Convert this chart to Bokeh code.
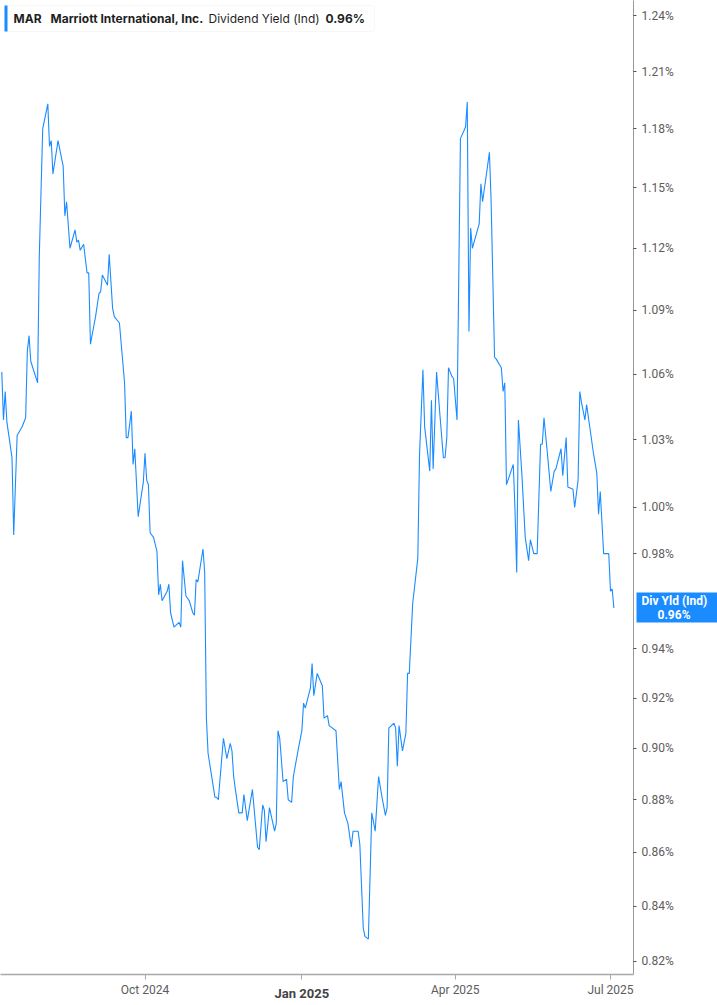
import pandas as pd
from bokeh.plotting import figure
from bokeh.models import (Range1d, FixedTicker, PrintfTickFormatter, Label,
                          BoxAnnotation, DatetimeTickFormatter, DatetimeAxis, LogAxis)
from bokeh.embed import file_html
from bokeh.resources import INLINE

# ---------------- data ----------------
dates = [
    "2024-07-09", "2024-07-10", "2024-07-11", "2024-07-12", "2024-07-15", "2024-07-16",
    "2024-07-18", "2024-07-21", "2024-07-23", "2024-07-24", "2024-07-25", "2024-07-26",
    "2024-07-30", "2024-07-31", "2024-08-02", "2024-08-05", "2024-08-06", "2024-08-07",
    "2024-08-08", "2024-08-11", "2024-08-14", "2024-08-15", "2024-08-16", "2024-08-18",
    "2024-08-21", "2024-08-22", "2024-08-23", "2024-08-24", "2024-08-26", "2024-08-28",
    "2024-08-29", "2024-08-30", "2024-09-02", "2024-09-04", "2024-09-05", "2024-09-06",
    "2024-09-09", "2024-09-10", "2024-09-12", "2024-09-13", "2024-09-16", "2024-09-19",
    "2024-09-20", "2024-09-21", "2024-09-23", "2024-09-24", "2024-09-25", "2024-09-27",
    "2024-09-30", "2024-10-01", "2024-10-02", "2024-10-03", "2024-10-04", "2024-10-06",
    "2024-10-08", "2024-10-09", "2024-10-10", "2024-10-11", "2024-10-14", "2024-10-15",
    "2024-10-16", "2024-10-18", "2024-10-21", "2024-10-22", "2024-10-23", "2024-10-25",
    "2024-10-27", "2024-10-29", "2024-10-30", "2024-10-31", "2024-11-01", "2024-11-04",
    "2024-11-05", "2024-11-06", "2024-11-07", "2024-11-11", "2024-11-12", "2024-11-13",
    "2024-11-16", "2024-11-18", "2024-11-20", "2024-11-21", "2024-11-22", "2024-11-23",
    "2024-11-25", "2024-11-27", "2024-11-28", "2024-11-30", "2024-12-03", "2024-12-06",
    "2024-12-07", "2024-12-09", "2024-12-10", "2024-12-11", "2024-12-13", "2024-12-16",
    "2024-12-17", "2024-12-18", "2024-12-19", "2024-12-21", "2024-12-23", "2024-12-24",
    "2024-12-26", "2024-12-27", "2024-12-30", "2025-01-01", "2025-01-02", "2025-01-03",
    "2025-01-06", "2025-01-07", "2025-01-08", "2025-01-10", "2025-01-13", "2025-01-14",
    "2025-01-16", "2025-01-17", "2025-01-21", "2025-01-23", "2025-01-24", "2025-01-26",
    "2025-01-28", "2025-01-30", "2025-01-31", "2025-02-03", "2025-02-04", "2025-02-06",
    "2025-02-07", "2025-02-09", "2025-02-11", "2025-02-13", "2025-02-15", "2025-02-17",
    "2025-02-19", "2025-02-20", "2025-02-21", "2025-02-24", "2025-02-25", "2025-02-26",
    "2025-02-27", "2025-03-01", "2025-03-03", "2025-03-04", "2025-03-05", "2025-03-07",
    "2025-03-10", "2025-03-11", "2025-03-13", "2025-03-14", "2025-03-17", "2025-03-18",
    "2025-03-19", "2025-03-21", "2025-03-23", "2025-03-25", "2025-03-26", "2025-03-27",
    "2025-03-28", "2025-03-30", "2025-03-31", "2025-04-02", "2025-04-04", "2025-04-07",
    "2025-04-08", "2025-04-09", "2025-04-10", "2025-04-11", "2025-04-15", "2025-04-16",
    "2025-04-17", "2025-04-21", "2025-04-22", "2025-04-24", "2025-04-25", "2025-04-28",
    "2025-04-29", "2025-04-30", "2025-05-01", "2025-05-05", "2025-05-06", "2025-05-07",
    "2025-05-08", "2025-05-10", "2025-05-12", "2025-05-14", "2025-05-15", "2025-05-17",
    "2025-05-19", "2025-05-20", "2025-05-21", "2025-05-22", "2025-05-23", "2025-05-25",
    "2025-05-27", "2025-05-29", "2025-05-30", "2025-06-02", "2025-06-03", "2025-06-05",
    "2025-06-06", "2025-06-09", "2025-06-10", "2025-06-12", "2025-06-13", "2025-06-14",
    "2025-06-16", "2025-06-17", "2025-06-19", "2025-06-21", "2025-06-23", "2025-06-24",
    "2025-06-25", "2025-06-27", "2025-06-29", "2025-06-30", "2025-07-01", "2025-07-02",
    "2025-07-03",
]
div_yield = [
    1.061, 1.039, 1.052, 1.038, 1.022, 0.988,
    1.032, 1.036, 1.040, 1.071, 1.078, 1.066,
    1.056, 1.116, 1.180, 1.193, 1.171, 1.174,
    1.157, 1.174, 1.161, 1.136, 1.143, 1.120,
    1.129, 1.123, 1.124, 1.119, 1.122, 1.108,
    1.108, 1.074, 1.087, 1.098, 1.099, 1.107,
    1.102, 1.117, 1.091, 1.087, 1.084, 1.056,
    1.031, 1.031, 1.043, 1.019, 1.026, 0.996,
    1.011, 1.024, 1.012, 1.010, 0.989, 0.987,
    0.981, 0.9625, 0.967, 0.960, 0.964, 0.967,
    0.955, 0.949, 0.951, 0.949, 0.977, 0.962,
    0.960, 0.955, 0.954, 0.969, 0.968, 0.982,
    0.972, 0.912, 0.898, 0.881, 0.881, 0.880,
    0.904, 0.896, 0.902, 0.899, 0.889, 0.884,
    0.875, 0.875, 0.882, 0.872, 0.884, 0.862,
    0.861, 0.878, 0.876, 0.864, 0.877, 0.868,
    0.871, 0.907, 0.904, 0.887, 0.888, 0.880,
    0.879, 0.889, 0.900, 0.907, 0.918, 0.916,
    0.924, 0.934, 0.921, 0.930, 0.925, 0.912,
    0.913, 0.909, 0.907, 0.884, 0.887, 0.875,
    0.871, 0.862, 0.868, 0.868, 0.863, 0.832,
    0.829, 0.828, 0.875, 0.868, 0.889, 0.881,
    0.874, 0.877, 0.908, 0.910, 0.908, 0.893,
    0.909, 0.899, 0.906, 0.930, 0.930, 0.959,
    0.978, 1.023, 1.062, 1.036, 1.016, 1.048,
    1.017, 1.061, 1.041, 1.022, 1.022, 1.031,
    1.063, 1.059, 1.058, 1.039, 1.175, 1.181,
    1.194, 1.080, 1.130, 1.120, 1.132, 1.152,
    1.143, 1.168, 1.143, 1.068, 1.067, 1.063,
    1.052, 1.056, 1.010, 1.019, 0.999, 0.972,
    1.039, 1.015, 0.987, 0.977, 0.986, 0.980,
    0.980, 1.004, 1.028, 1.028, 1.040, 1.024,
    1.007, 1.016, 1.017, 1.026, 1.014, 1.031,
    1.009, 1.008, 1.000, 1.012, 1.052, 1.047,
    1.039, 1.046, 1.035, 1.024, 1.015, 0.997,
    1.007, 0.980, 0.980, 0.980, 0.964, 0.965,
    0.957,
]

symbol = "MAR"
company = "Marriott International, Inc."
metric = "Dividend Yield (Ind)"
metric_short = "Div Yld (Ind)"
last_label = "0.96%"

y_ticks = [0.82, 0.84, 0.86, 0.88, 0.90, 0.92, 0.94, 0.98, 1.00, 1.03, 1.06,
           1.09, 1.12, 1.15, 1.18, 1.21, 1.24]
x_tick_dates = ["2024-10-01", "2025-01-01", "2025-04-01", "2025-07-01"]
x_tick_labels = ["Oct 2024", "Jan 2025", "Apr 2025", "Jul 2025"]
bold_tick = "Jan 2025"

# ---------------- figure ----------------
LINE_BLUE = "#1a8cff"
x = pd.to_datetime(dates)

p = figure(width=717, height=1004, x_axis_type="datetime", y_axis_type="log",
           y_axis_location="right", output_backend="svg", toolbar_location=None,
           x_range=Range1d(pd.Timestamp("2024-07-08 06:00"), pd.Timestamp("2025-07-14 12:00")),
           y_range=Range1d(0.81528, 1.24816),
           min_border_left=0, min_border_top=0, min_border_right=84, min_border_bottom=30)
p.outline_line_color = None
p.grid.visible = False
p.background_fill_color = "white"
p.border_fill_color = "white"

p.line(x=x, y=div_yield, line_color=LINE_BLUE, line_width=1.1)

# y axis (right) with the regular ticks
ya = p.yaxis[0]
ya.ticker = FixedTicker(ticks=y_ticks)
ya.formatter = PrintfTickFormatter(format="%.2f%%")
ya.axis_line_color = "#9a9a9a"
ya.axis_line_width = 1
ya.major_tick_line_color = "#555555"
ya.major_tick_out = 3
ya.major_tick_in = 0
ya.minor_tick_line_color = None
ya.major_label_text_font = "Roboto"
ya.major_label_text_font_size = "12px"
ya.major_label_text_color = "#5c5c5c"
ya.major_label_standoff = 5

# last-value marker, built from two extra right axes that tick only at the last value:
#   box_axis:  a 30px-thick blue tick spanning the right border, labelled with the value
#   name_axis: the metric name, drawn afterwards on top of the blue tick
label_style = dict(major_label_text_font="Roboto", major_label_text_font_style="bold",
                   major_label_text_font_size="12px", major_label_text_color="white",
                   major_label_text_line_height=0.95)

box_axis = LogAxis(ticker=FixedTicker(ticks=[div_yield[-1]]),
                   formatter=PrintfTickFormatter(format="\n%.2f%%"),
                   axis_line_color=None, minor_tick_line_color=None,
                   major_tick_line_color=LINE_BLUE, major_tick_line_width=30,
                   major_tick_in=40, major_tick_out=44, **label_style)
box_axis.major_label_standoff = -63
p.add_layout(box_axis, "right")

name_axis = LogAxis(ticker=FixedTicker(ticks=[div_yield[-1]]),
                    formatter=PrintfTickFormatter(format=metric_short + "\n"),
                    axis_line_color=None, minor_tick_line_color=None,
                    major_tick_line_color=None, major_tick_in=0, major_tick_out=0,
                    **label_style)
name_axis.major_label_standoff = -52
p.add_layout(name_axis, "right")

# x axis (bottom)
tick_ms = [pd.Timestamp(d).value // 10**6 for d in x_tick_dates]
fmt = "%b %Y"


def month_formatter():
    return DatetimeTickFormatter(days=fmt, months=fmt, years=fmt, hours=fmt,
                                 minutes=fmt, seconds=fmt, milliseconds=fmt,
                                 minsec=fmt, hourmin=fmt)


xa = p.xaxis[0]
xa.ticker = FixedTicker(ticks=tick_ms)
xa.formatter = month_formatter()
xa.major_label_overrides = {t: ("" if lab == bold_tick else lab)
                            for t, lab in zip(tick_ms, x_tick_labels)}
xa.axis_line_color = "#a8a8a8"
xa.axis_line_width = 1.5
xa.major_tick_line_color = "#a8a8a8"
xa.major_tick_out = 5
xa.major_tick_in = 0
xa.minor_tick_line_color = None
xa.major_label_text_font = "Roboto"
xa.major_label_text_font_size = "12px"
xa.major_label_text_color = "#5c5c5c"
xa.major_label_standoff = 3

# second (label-only) axis for the bold year-start tick
bold_ms = [t for t, lab in zip(tick_ms, x_tick_labels) if lab == bold_tick]
xb = DatetimeAxis(ticker=FixedTicker(ticks=bold_ms), formatter=month_formatter(),
                  axis_line_color=None, major_tick_line_color=None,
                  major_tick_out=0, major_tick_in=0, minor_tick_line_color=None,
                  major_label_text_font="Roboto", major_label_text_font_style="bold",
                  major_label_text_font_size="13px", major_label_text_color="#444444")
xb.major_label_standoff = -14
p.add_layout(xb, "below")

# legend box at top-left (inside the frame)
p.add_layout(BoxAnnotation(left=4, right=374, bottom=943, top=969,
                           left_units="screen", right_units="screen",
                           bottom_units="screen", top_units="screen",
                           fill_color="white", fill_alpha=1.0,
                           line_color="#e4e4e4", line_width=1, border_radius=3))
p.add_layout(BoxAnnotation(left=4, right=7, bottom=943, top=969,
                           left_units="screen", right_units="screen",
                           bottom_units="screen", top_units="screen",
                           fill_color=LINE_BLUE, fill_alpha=1.0, line_color=None))
legend_items = [(13, symbol, "bold"), (50, company, "bold"),
                (208, metric, "normal"), (325, last_label, "bold")]
for lx, txt, style in legend_items:
    p.add_layout(Label(x=lx, y=956.5, x_units="screen", y_units="screen", text=txt,
                       text_font="Inter", text_font_style=style, text_font_size="12px",
                       text_color="#1f1f1f", text_baseline="middle"))

open("out.html", "w").write(file_html(p, INLINE))
